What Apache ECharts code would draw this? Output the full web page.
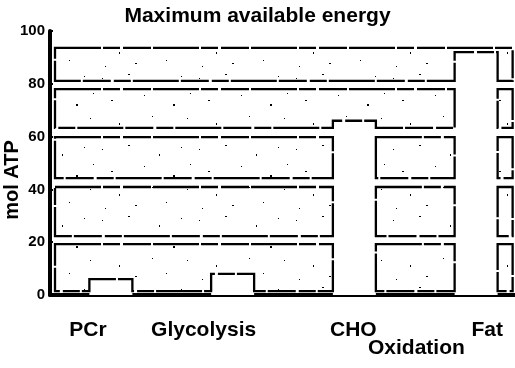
<!DOCTYPE html>
<html>
<head>
<meta charset="utf-8">
<script src="https://cdn.jsdelivr.net/npm/echarts@6/dist/echarts.min.js"></script>
<style>
  html, body { margin: 0; padding: 0; background: #fff; }
  #chart { width: 515px; height: 368px; }
</style>
</head>
<body>
<div id="chart"></div>
<script>
// Energy sources and the maximum ATP each can supply (mol ATP)
const categories = ['PCr', 'Glycolysis', 'CHO\nOxidation', 'Fat'];
const energyValues = [6, 8, 66, 92];

// Stippled background bands (mol ATP range of each band)
const bandLow  = [1.5, 22.3, 44.3, 63.3, 81.1];
const bandHigh = [19.3, 40.9, 59.8, 78.0, 93.6];

// Y axis ticks
const yTicks = [0, 20, 40, 60, 80, 100];

// ---- layout / style constants ----
const FONT = '"Liberation Sans", Arial, Helvetica, sans-serif';
const BAR_W = 43;
// horizontal nudge of each category label line (px)
const labelShift = [[-23], [-29], [-1, 62], [11]];

// sparse, irregular stipple texture used inside the bands
function makeStipple() {
  const c = document.createElement('canvas');
  c.width = 97; c.height = 71;
  const g = c.getContext('2d');
  g.fillStyle = '#000';
  const dots = [
    [5, 7, 1, 1], [31, 3, 2, 1], [62, 12, 1, 2], [84, 5, 1, 1], [14, 29, 2, 1],
    [47, 24, 1, 1], [76, 33, 2, 2], [90, 47, 1, 1], [22, 52, 1, 2], [55, 45, 1, 1],
    [38, 63, 2, 1], [69, 60, 1, 1], [8, 66, 1, 1], [93, 22, 1, 1]
  ];
  dots.forEach(d => g.fillRect(d[0], d[1], d[2], d[3]));
  return c;
}
const stipple = makeStipple();

function barRects(api) {
  return energyValues.map((v, i) => {
    const base = api.coord([i, 0]);
    const top = api.coord([i, v]);
    return { a: base[0] - BAR_W / 2, b: base[0] + BAR_W / 2, top: top[1] };
  });
}

// one band: rectangle with the bars cut out of it
function renderBand(params, api) {
  const loPx = api.coord([0, api.value(1)])[1];
  const hiPx = api.coord([0, api.value(2)])[1];
  const bars = barRects(api);
  const cs = params.coordSys;
  const xStart = cs.x + 5;
  const xEnd = bars[bars.length - 1].b + 15;

  const pieces = [];
  let cur = { x0: xStart, notches: [] };
  bars.forEach(bar => {
    if (bar.top <= hiPx) {
      cur.x1 = bar.a; pieces.push(cur);
      cur = { x0: bar.b, notches: [] };
    } else if (bar.top < loPx) {
      cur.notches.push(bar);
    }
  });
  cur.x1 = xEnd; pieces.push(cur);

  const children = pieces.filter(p => p.x1 > p.x0).map(p => {
    const pts = [[p.x0, hiPx], [p.x1, hiPx], [p.x1, loPx]];
    p.notches.slice().reverse().forEach(n => {
      pts.push([n.b, loPx], [n.b, n.top], [n.a, n.top], [n.a, loPx]);
    });
    pts.push([p.x0, loPx]);
    return {
      type: 'polygon',
      shape: { points: pts },
      style: {
        fill: { image: stipple, repeat: 'repeat' },
        stroke: '#000',
        lineWidth: 2.3,
        lineDash: [46, 2, 17, 3, 28, 2],
        lineJoin: 'miter'
      }
    };
  });
  return { type: 'group', children };
}

// rich-text styles for category labels
const rich = {};
categories.forEach((cat, i) => {
  cat.split('\n').forEach((line, j) => {
    const s = (labelShift[i] && labelShift[i][j]) || 0;
    rich['c' + i + 'l' + j] = {
      fontFamily: FONT, fontWeight: 'bold', fontSize: 21, lineHeight: 18,
      color: '#000', align: 'center',
      padding: s < 0 ? [0, -2 * s, 0, 0] : [0, 0, 0, 2 * s]
    };
  });
});

const chart = echarts.init(document.getElementById('chart'), null, { renderer: 'canvas' });
chart.setOption({
  animation: false,
  backgroundColor: '#fff',
  title: {
    text: 'Maximum available energy',
    left: 'center',
    top: 1,
    textStyle: { fontFamily: FONT, fontWeight: 'bold', fontSize: 21, color: '#000' }
  },
  grid: { left: 50, right: -22, top: 31, bottom: 73, containLabel: false, outerBoundsMode: 'none' },
  xAxis: {
    type: 'category',
    data: categories,
    boundaryGap: true,
    axisLine: { lineStyle: { color: '#000', width: 4 } },
    axisTick: { show: false },
    axisLabel: {
      interval: 0,
      margin: 26,
      hideOverlap: false,
      formatter: (value, index) =>
        value.split('\n').map((line, j) => '{c' + index + 'l' + j + '|' + line + '}').join('\n'),
      rich
    }
  },
  yAxis: {
    type: 'value',
    min: yTicks[0],
    max: yTicks[yTicks.length - 1],
    interval: yTicks[1] - yTicks[0],
    name: 'mol ATP',
    nameLocation: 'middle',
    nameGap: 28,
    nameMoveOverlap: false,
    nameTextStyle: {
      fontFamily: FONT, fontWeight: 'bold', fontSize: 20, color: '#000',
      padding: [0, 34, 0, 0]
    },
    axisLine: { show: true, lineStyle: { color: '#000', width: 4 } },
    axisTick: { show: true, inside: true, length: 3, lineStyle: { color: '#000', width: 2 } },
    axisLabel: {
      margin: 5,
      fontFamily: FONT, fontWeight: 'bold', fontSize: 15, color: '#000'
    },
    splitLine: { show: false }
  },
  series: [
    {
      name: 'Maximum available energy',
      type: 'bar',
      data: energyValues,
      barWidth: BAR_W,
      itemStyle: { color: '#fff' },
      z: 1,
      silent: true
    },
    {
      name: 'bands',
      type: 'custom',
      renderItem: renderBand,
      encode: { x: 0, y: [1, 2] },
      data: bandLow.map((lo, i) => [0, lo, bandHigh[i]]),
      z: 2,
      silent: true
    }
  ]
});
</script>
</body>
</html>
